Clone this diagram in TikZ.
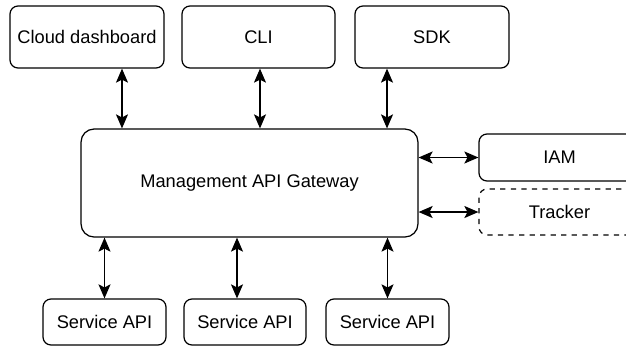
\documentclass[tikz,border=0pt]{standalone}
\usepackage{fontspec}
\setmainfont{Liberation Sans}
\usepackage{tikz}
\usetikzlibrary{positioning, arrows.meta, calc}

\tikzset{
    box/.style={draw, line width=0.7pt, rounded corners=0.16cm, inner sep=0pt, font=\fontsize{10.4}{12}\selectfont},
    dashedbox/.style={box, dashed},
    link/.style={{Stealth[length=0.28cm,width=0.24cm,inset=0.06cm]}-{Stealth[length=0.28cm,width=0.24cm,inset=0.06cm]}, line width=0.7pt}
}

\begin{document}
\begin{tikzpicture}[x=0.02cm, y=-0.02cm]
            % Fix the picture size
            \useasboundingbox (0,0) rectangle (626,346);
            \clip (0,0) rectangle (626,346);

            % Draw the clients on top
            \node[box, minimum width=3.08cm, minimum height=1.24cm] (cloud) at (87,37) {Cloud dashboard};
            \node[box, minimum width=3.06cm, minimum height=1.24cm] (cli) at (258.5,37) {CLI};
            \node[box, minimum width=3.08cm, minimum height=1.24cm] (sdk) at (432,37) {SDK};

            % Draw the gateway
            \node[box, rounded corners=0.26cm, minimum width=6.74cm, minimum height=2.16cm] (gw) at (249.5,183) {Management API Gateway};

            % Draw the side boxes
            \node[box, minimum width=3.22cm, minimum height=0.94cm] (iam) at (559.5,157.5) {IAM};
            \node[dashedbox, minimum width=3.22cm, minimum height=0.92cm] (tracker) at (559.5,212) {Tracker};

            % Draw the services
            \node[box, minimum width=2.46cm, minimum height=0.92cm] (svc1) at (104.5,322) {Service API};
            \node[box, minimum width=2.44cm, minimum height=0.92cm] (svc2) at (245,322) {Service API};
            \node[box, minimum width=2.46cm, minimum height=0.92cm] (svc3) at (387.5,322) {Service API};

            % Draw the links to the clients
            \draw[link] ([xshift=0.7cm]cloud.south) coordinate (c1) -- (c1 |- gw.north);
            \draw[link] ([xshift=0.03cm]cli.south) coordinate (c2) -- (c2 |- gw.north);
            \draw[link] ([xshift=-0.9cm]sdk.south) coordinate (c3) -- (c3 |- gw.north);

            % Draw the links to the side boxes
            \draw[link] (gw.east |- iam.west) -- (iam.west);
            \draw[link] (gw.east |- tracker.west) -- (tracker.west);

            % Draw the links to the services
            \draw[link] (gw.south -| svc1.north) -- (svc1.north);
            \draw[link] ([xshift=-0.16cm]svc2.north) coordinate (s2) -- (s2 |- gw.south);
            \draw[link] (gw.south -| svc3.north) -- (svc3.north);
        \end{tikzpicture}
\end{document}
